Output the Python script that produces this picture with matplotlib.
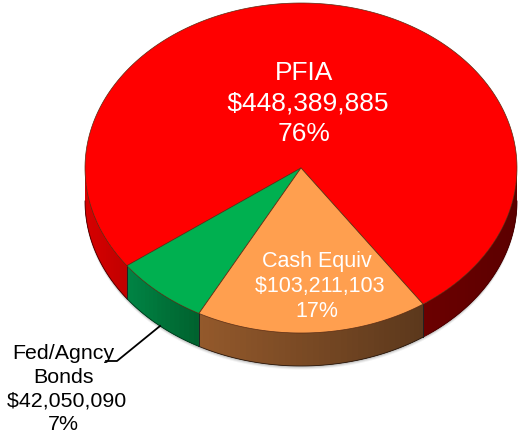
import numpy as np
import matplotlib
matplotlib.use("Agg")
import matplotlib.pyplot as plt
from matplotlib.patches import Polygon

labels = ["PFIA", "Fed/Agncy\nBonds", "Cash Equiv"]
values = [448389885, 42050090, 103211103]
percents = ["76%", "7%", "17%"]
top_colors = ["#FF0000", "#00B050", "#FF9F4F"]
rim_edges = ["#4a0000", "#00381c", "#2a1a10"]
# rim shades, left end and right end of each visible piece
rim_shades = {
    (0, 0): ((0.42, 0, 0), (0.36, 0, 0)),
    (0, 1): ((0.84, 0, 0), (0.76, 0, 0)),
    (1, 0): ((0.0, 0.52, 0.27), (0.0, 0.38, 0.18)),
    (2, 0): ((0.58, 0.35, 0.17), (0.36, 0.22, 0.11)),
}

plt.rcParams["font.family"] = ["Liberation Sans", "DejaVu Sans"]

# pie geometry in image pixels
cx, cy = 301, 169
rx, ry = 216, 165
depth = 33
start = 304.4  # parametric angle where PFIA starts, counter clockwise


def ell(t, dy=0):
    t = np.radians(t)
    return cx + rx * np.cos(t), cy - ry * np.sin(t) + dy


fig = plt.figure(figsize=(5.19, 4.35), dpi=100)
ax = fig.add_axes([0, 0, 1, 1])
ax.set_xlim(0, 519)
ax.set_ylim(435, 0)
ax.axis("off")

sweeps = 360 * np.array(values) / sum(values)
edges = start + np.concatenate([[0], np.cumsum(sweeps)])

# soft shadow under the rim
tt = np.linspace(180, 360, 200)
for grow, a in [(3.5, 0.05), (2.5, 0.07), (1.5, 0.1)]:
    x, y = ell(tt, depth + grow)
    x2, y2 = ell(tt[::-1], 0)
    ax.fill(np.r_[x, x2], np.r_[y, y2], color="black", alpha=a, lw=0, zorder=1)

# rim, only the front half shows
for i in range(3):
    lo, hi = edges[i], edges[i + 1]
    piece = 0
    for seg in [(lo, hi), (lo - 360, hi - 360)]:
        a, b = max(seg[0], 180), min(seg[1], 360)
        if a >= b:
            continue
        left, right = rim_shades[(i, piece)]
        piece += 1
        steps = np.arange(a, b + 1.5, 1.5)
        steps[-1] = b
        span_x = ell(a)[0], ell(b)[0]
        # each strip runs on under the next one, so no seams show
        for j, (t0, t1) in enumerate(zip(steps[:-1], steps[1:])):
            x0, y0 = ell(t0)
            x1, y1 = ell(t1)
            t2 = steps[min(j + 3, len(steps) - 1)]
            ts = np.linspace(t0, t2, 6)
            xs, ys = ell(ts)
            f = (0.5 * (x0 + x1) - span_x[0]) / (span_x[1] - span_x[0])
            col = np.array(left) * (1 - f) + np.array(right) * f
            ax.add_patch(Polygon(np.c_[np.r_[xs, xs[::-1]], np.r_[ys, ys[::-1] + depth]],
                                 fc=col, ec="none", lw=0, zorder=2))
        ts = np.linspace(a, b, 80)
        x, y = ell(ts, depth)
        ax.plot(x, y, color=rim_edges[i], lw=0.6, zorder=3)
        for t in (a, b):
            if 180 < t < 360:
                x, y = ell(t)
                ax.plot([x, x], [y, y + depth], color="#222222", lw=0.6, zorder=3)

# top face
for i in range(3):
    ts = np.linspace(edges[i], edges[i + 1], 200)
    x, y = ell(ts)
    ax.add_patch(Polygon(np.c_[np.r_[cx, x], np.r_[cy, y]], fc=top_colors[i],
                         ec="#5a2a10", lw=0.5, joinstyle="round", zorder=4))

ax.text(304, 103.5, "%s\n $%s\n%s" % (labels[0], format(values[0], ","), percents[0]),
        color="white", fontsize=19, ha="center", va="center", linespacing=1.33, zorder=6)
ax.text(317, 287, "%s\n $%s\n%s" % (labels[2], format(values[2], ","), percents[2]),
        color="white", fontsize=15.5, ha="center", va="center", linespacing=1.25, zorder=6)
ax.text(63.5, 389, "%s\n $%s\n%s" % (labels[1], format(values[1], ","), percents[1]),
        color="black", fontsize=15.4, ha="center", va="center", linespacing=1.29, zorder=6)

ax.plot([160, 117, 106], [327, 362, 362], color="black", lw=1.3, zorder=5)

fig.savefig("out.png", dpi=100)
